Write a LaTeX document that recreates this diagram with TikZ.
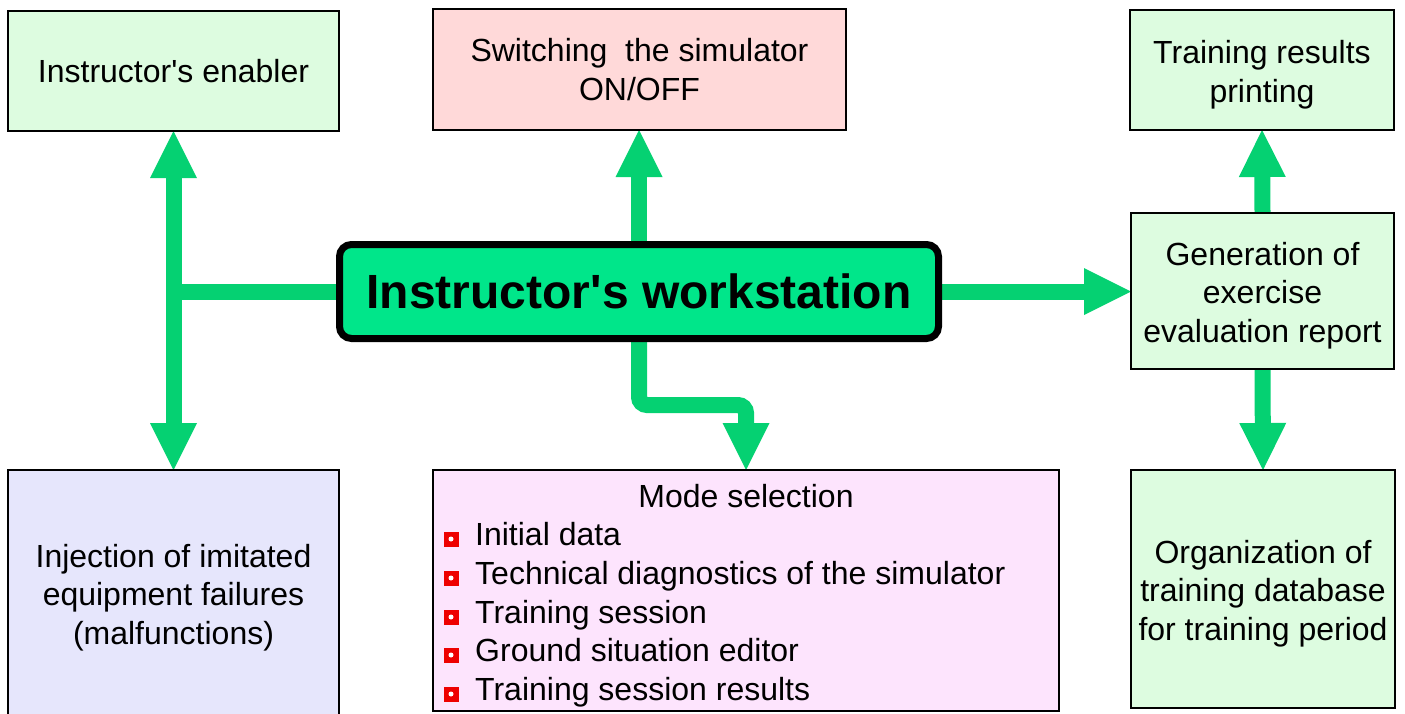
\documentclass[tikz,border=0pt]{standalone}
\usepackage{fontspec}
\setmainfont{Liberation Sans}
\usetikzlibrary{arrows.meta}
\pgfdeclarelayer{bg}
\pgfsetlayers{bg,main}

\definecolor{flow}{RGB}{5,209,114}
\definecolor{core}{RGB}{0,230,138}
\definecolor{mint}{RGB}{221,252,224}
\definecolor{rose}{RGB}{255,217,217}
\definecolor{lilac}{RGB}{230,230,252}
\definecolor{orchid}{RGB}{253,228,253}
\definecolor{bulletred}{RGB}{238,0,0}

% taller first line so that stacked captions sit a little lower in their boxes
\newcommand{\firstline}{\rule{0pt}{32.4pt}}

\begin{document}
\begin{tikzpicture}[x=1pt,y=-1pt,
  txt/.style={font=\fontsize{32}{38.8}\selectfont},
  box/.style={draw=black, line width=1.8pt, inner sep=0pt, outer sep=0pt,
              align=center, txt},
  hub/.style={draw=black, line width=7pt, rounded corners=12pt, fill=core,
              inner sep=0pt, outer sep=0pt,
              font=\bfseries\fontsize{48}{56}\selectfont},
  flowline/.style={draw=flow, line width=16pt},
  >={Triangle[length=47pt,width=47pt,line width=0pt]},
  item/.style={txt, anchor=base west, inner sep=0pt},
  bulletsq/.style={fill=bulletred, minimum size=15pt, inner sep=0pt,
    path picture={\fill[white] (path picture bounding box.center) circle (2.5pt);}}
]
\clip (0,0) rectangle (1405,713);

% boxes
\node[box, fill=mint, minimum width=331pt, minimum height=120pt]
  (enabler) at (173.5,71) {Instructor\textquotesingle s enabler};
\node[box, fill=rose, minimum width=413pt, minimum height=121pt]
  (switching) at (639.5,69.5) {Switching\ \ the simulator\\ON/OFF};
\node[box, fill=mint, minimum width=264pt, minimum height=120pt]
  (printing) at (1262,70) {\firstline Training results\\printing};
\node[hub, minimum width=599pt, minimum height=94pt]
  (central) at (639,291.5) {Instructor\textquotesingle s workstation};
\node[box, fill=mint, minimum width=263pt, minimum height=156pt]
  (generation) at (1262.5,291) {\firstline Generation of\\exercise\\evaluation report};
\node[box, fill=lilac, minimum width=331pt, minimum height=246pt]
  (injection) at (173.5,593) {\firstline Injection of imitated\\equipment failures\\(malfunctions)};
\node[box, fill=orchid, minimum width=626pt, minimum height=241pt]
  (mode) at (746,590.5) {};
\node[box, fill=mint, minimum width=264pt, minimum height=238pt]
  (organization) at (1263,589) {\firstline Organization of\\training database\\for training period};

% mode list
\node[txt, anchor=base, inner sep=0pt] (modetitle) at (746,507.5) {Mode selection};
\node[item] (m1) at (475,545) {Initial data};
\node[item] (m2) at (475,584) {Technical diagnostics of the simulator};
\node[item] (m3) at (475,623) {Training session};
\node[item] (m4) at (475,661) {Ground situation editor};
\node[item] (m5) at (475,700) {Training session results};
\node[bulletsq] (b1) at (451,539) {};
\node[bulletsq] (b2) at (451,578) {};
\node[bulletsq] (b3) at (451,617) {};
\node[bulletsq] (b4) at (451,655) {};
\node[bulletsq] (b5) at (451,694) {};

% connectors
\begin{pgfonlayer}{bg}
  \draw[flowline, <->] (enabler.south) -- (injection.north);
  \draw[flowline] (central.west) -- (central.west -| enabler.south);
  \draw[flowline, ->] (central.north) -- (central.north |- switching.south);
  \draw[flowline, ->] (central.east) -- (central.east -| generation.west);
  \draw[flowline, ->] (generation.north) -- (printing.south);
  \draw[flowline, ->] (generation.south) -- (organization.north);
  \draw[flowline, ->, rounded corners=8pt]
    (central.south) -- ++(0,66.5) -| (mode.north);
\end{pgfonlayer}
\end{tikzpicture}
\end{document}
